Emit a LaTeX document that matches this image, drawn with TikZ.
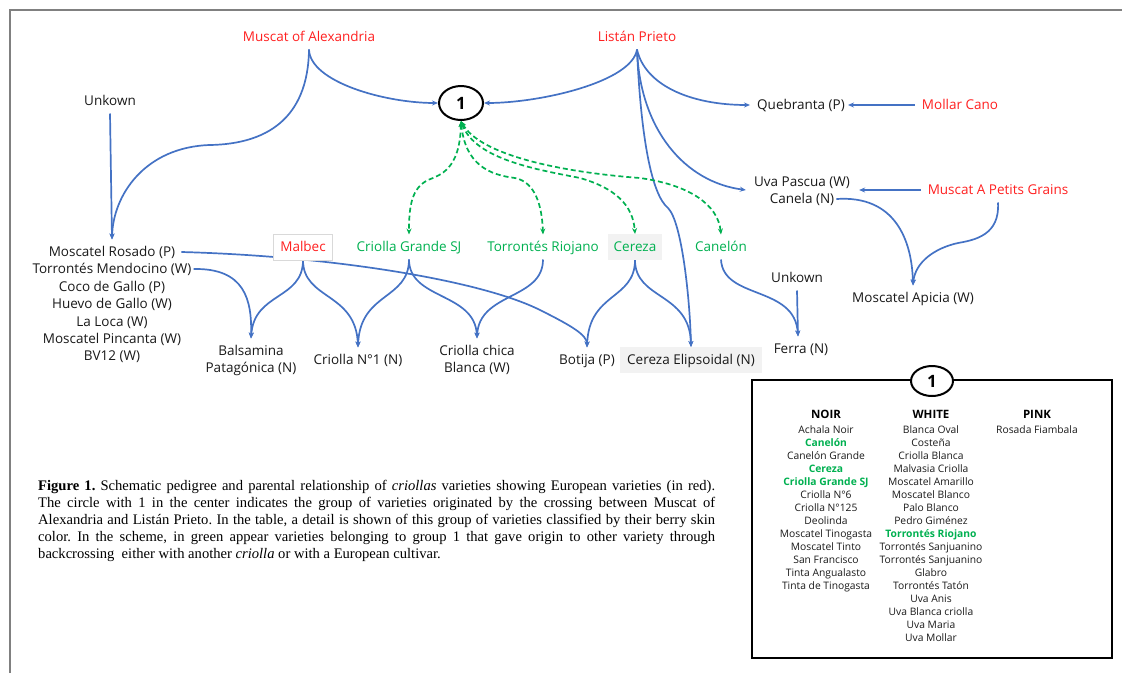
\documentclass[tikz,border=0pt]{standalone}
\usepackage{fontspec}
\setmainfont{Open Sans}
\newfontfamily\capfont{Liberation Serif}
\usetikzlibrary{arrows.meta,backgrounds,shapes.geometric}
\definecolor{eblue}{HTML}{4472C4}
\definecolor{ered}{HTML}{FF2020}
\definecolor{egreen}{HTML}{00B050}
\definecolor{egray}{HTML}{F2F2F2}
\newcommand\grnb[1]{\textcolor{egreen}{\textbf{#1}}}
\frenchspacing
\begin{document}
\begin{tikzpicture}[x=1pt,y=-1pt,
  lbl/.style={font=\fontsize{13.5}{16}\selectfont, text height=9.6pt, text depth=0pt, inner xsep=2pt, inner ysep=7.5pt, text=black!90},
  redl/.style={lbl, text=ered},
  grnl/.style={lbl, text=egreen},
  blink/.style={draw=eblue, line width=1.7pt, -{Stealth[length=6pt,width=5pt]}},
  glink/.style={draw=egreen, line width=1.7pt, dash pattern=on 5pt off 3pt, {Stealth[length=6pt,width=5pt]}-{Stealth[length=6pt,width=5pt]}},
  tabl/.style={font=\fontsize{10.3}{13}\selectfont, align=center, inner sep=0pt, text=black!90},
  tabh/.style={font=\bfseries\fontsize{11.5}{13}\selectfont, inner sep=0pt, text=black},
  onecirc/.style={draw, ellipse, line width=2pt, inner sep=0pt, font=\bfseries\fontsize{17}{17}\selectfont}
]
\useasboundingbox (0,0) rectangle (1122,673);
% frame
\draw[black!50, line width=2pt] (9.5,673) -- (9.5,9.5) -- (1122,9.5);

% nodes
\node[redl] (moa) at (309,37) {Muscat of Alexandria};
\node[redl] (lp) at (637,37) {Listán Prieto};
\node[lbl] (unk1) at (110,101) {Unkown};
\node[onecirc, minimum width=44pt, minimum height=34pt] (c1) at (461,103) {1};
\node[lbl] (qb) at (801,105) {Quebranta (P)};
\node[redl] (mc) at (960,105) {Mollar Cano};
\node[lbl] (upw) at (802,182) {Uva Pascua (W)};
\node[lbl] (can) at (802,199) {Canela (N)};
\node[redl] (mapg) at (998,190) {Muscat A Petits Grains};
\node[lbl] (mr) at (112,252) {Moscatel Rosado (P)};
\node[lbl] (tm) at (112,269) {Torrontés Mendocino (W)};
\node[lbl] (cg) at (112,287) {Coco de Gallo (P)};
\node[lbl] (hg) at (112,304) {Huevo de Gallo (W)};
\node[lbl] (ll) at (112,322) {La Loca (W)};
\node[lbl] (mp) at (112,339) {Moscatel Pincanta (W)};
\node[lbl] (bv) at (112,356) {BV12 (W)};
\node[redl, fill=white, draw=black!15, line width=0.6pt, inner xsep=7pt, inner ysep=8pt] (mal) at (303,247) {Malbec};
\node[grnl] (cgsj) at (409,247) {Criolla Grande SJ};
\node[grnl] (tr) at (543,247) {Torrontés Riojano};
\node[grnl, fill=egray, inner xsep=6pt, inner ysep=8pt] (cer) at (635,247) {Cereza};
\node[grnl] (canel) at (721,247) {Canelón};
\node[lbl] (unk2) at (797,278) {Unkown};
\node[lbl] (ma) at (913,298) {Moscatel Apicia (W)};
\node[lbl] (bal1) at (251,351) {Balsamina};
\node[lbl] (bal2) at (251,368) {Patagónica (N)};
\node[lbl] (cn1) at (358,360) {Criolla N°1 (N)};
\node[lbl] (cc1) at (477,351) {Criolla chica};
\node[lbl] (cc2) at (477,368) {Blanca (W)};
\node[lbl] (bo) at (587,360) {Botija (P)};
\node[lbl, fill=egray, inner xsep=7pt, inner ysep=8pt] (ce) at (691,360) {Cereza Elipsoidal (N)};
\node[lbl] (fer) at (801,349) {Ferra (N)};

% connectors
\begin{scope}[on background layer]
\draw[blink] (moa.south) .. controls (310,82) and (385,103) .. (c1.west);
\draw[blink] (moa.south) .. controls (308,120) and (265,144) .. (210,145) .. controls (145,147) and (113,195) .. (mr.north);
\draw[blink] (unk1.south) -- (mr.north);
\draw[blink] (lp.south) .. controls (632,82) and (540,103) .. (c1.east);
\draw[blink] (lp.south) .. controls (645,85) and (690,105) .. ([xshift=-5pt]qb.west);
\draw[blink] (lp.south) .. controls (640,130) and (685,182) .. ([xshift=-6pt,yshift=-3.2pt]upw.base west);
\draw[blink] (lp.south) .. controls (641,140) and (652,195) .. (668,208) .. controls (682,222) and (690,300) .. (ce.north);
\draw[blink] ([xshift=-5pt]mc.west) -- ([xshift=1pt]qb.east);
\draw[blink] ([xshift=-5pt]mapg.west) -- ([xshift=7pt,yshift=-3.2pt]upw.base east);
\draw[blink] (can.east) .. controls (895,195) and (912,240) .. (ma.north);
\draw[blink] (mapg.south) .. controls (1000,235) and (975,240) .. (958,243) .. controls (935,248) and (915,262) .. (ma.north);
\draw[blink] ([xshift=4pt]mr.east) .. controls (330,256) and (480,280) .. (540,310) .. controls (572,326) and (587,335) .. (bo.north);
\draw[blink] (tm.east) .. controls (245,268) and (252,300) .. (bal1.north);
\draw[blink] (mal.south) .. controls (303,300) and (254,292) .. (bal1.north);
\draw[blink] (mal.south) .. controls (303,300) and (356,292) .. (cn1.north);
\draw[blink] (cgsj.south) .. controls (409,300) and (360,292) .. (cn1.north);
\draw[blink] (cgsj.south) .. controls (409,300) and (475,292) .. (cc1.north);
\draw[blink] (tr.south) .. controls (543,300) and (479,292) .. (cc1.north);
\draw[blink] (cer.south) .. controls (635,300) and (589,292) .. (bo.north);
\draw[blink] (cer.south) .. controls (635,300) and (690,292) .. (ce.north);
\draw[blink] (canel.south) .. controls (723,300) and (795,285) .. ([xshift=-3pt]fer.north);
\draw[blink] (unk2.south) -- ([xshift=-3pt]fer.north);
% green dashed
\draw[glink] (c1.south) .. controls (460,170) and (440,175) .. (428,180) .. controls (412,188) and (409,205) .. (cgsj.north);
\draw[glink] (c1.south) .. controls (465,165) and (490,175) .. (515,178) .. controls (535,182) and (542,205) .. (tr.north);
\draw[glink] (c1.south) .. controls (475,160) and (540,170) .. (580,178) .. controls (615,188) and (633,205) .. (cer.north);
\draw[glink] (c1.south) .. controls (480,155) and (560,172) .. (640,178) .. controls (690,185) and (718,205) .. (canel.north);
\end{scope}

% table box
\draw[line width=2pt] (752,380) rectangle (1112,658);
\node[onecirc, fill=white, minimum width=42pt, minimum height=30pt] (c2) at (932,381) {1};
\node[tabh] (hn) at (826,414) {NOIR};
\node[tabh] (hw) at (931,414) {WHITE};
\node[tabh] (hp) at (1037,414) {PINK};
\node[tabl, anchor=north] (ln) at (826,425) {Achala Noir\\\grnb{Canelón}\\Canelón Grande\\\grnb{Cereza}\\\grnb{Criolla Grande SJ}\\Criolla N°6\\Criolla N°125\\Deolinda\\Moscatel Tinogasta\\Moscatel Tinto\\San Francisco\\Tinta Angualasto\\Tinta de Tinogasta};
\node[tabl, anchor=north] (lw) at (931,425) {Blanca Oval\\Costeña\\Criolla Blanca\\Malvasia Criolla\\Moscatel Amarillo\\Moscatel Blanco\\Palo Blanco\\Pedro Giménez\\\grnb{Torrontés Riojano}\\Torrontés Sanjuanino\\Torrontés Sanjuanino\\Glabro\\Torrontés Tatón\\Uva Anis\\Uva Blanca criolla\\Uva Maria\\Uva Mollar};
\node[tabl, anchor=north] (lpk) at (1037,425) {Rosada Fiambala};

% caption
\node[anchor=north west, inner sep=0pt, align=left, font=\capfont\fontsize{14.6}{17}\selectfont] (cap) at (38,480.5) {%
\makebox[677pt][s]{\textbf{Figure 1.} Schematic pedigree and parental relationship of \textit{criollas} varieties showing European varieties (in red).}\\
\makebox[677pt][s]{The circle with 1 in the center indicates the group of varieties originated by the crossing between Muscat of}\\
\makebox[677pt][s]{Alexandria and Listán Prieto. In the table, a detail is shown of this group of varieties classified by their berry skin}\\
\makebox[677pt][s]{color. In the scheme, in green appear varieties belonging to group 1 that gave origin to other variety through}\\
backcrossing\ \ either with another \textit{criolla} or with a European cultivar.};
\end{tikzpicture}
\end{document}
